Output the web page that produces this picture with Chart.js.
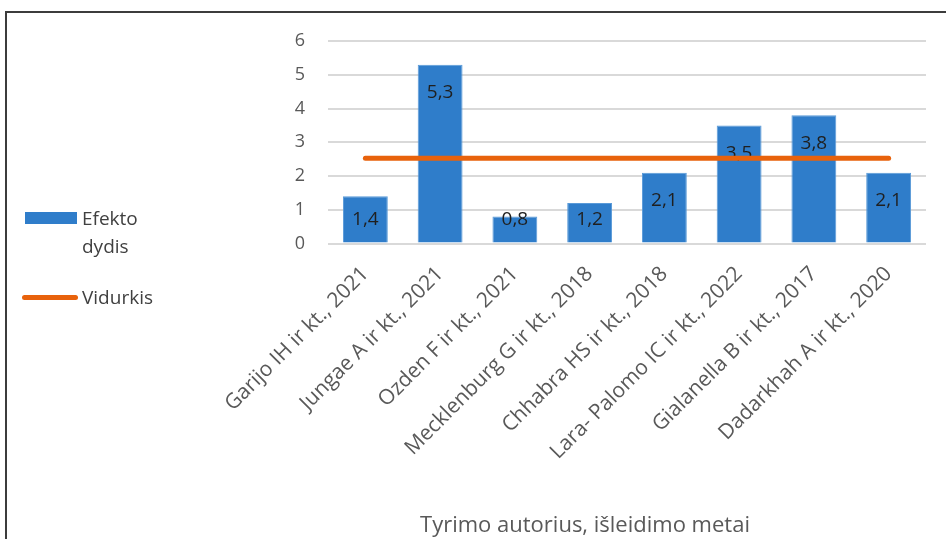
<!DOCTYPE html>
<html>
<head>
<meta charset="utf-8">
<script src="https://cdn.jsdelivr.net/npm/chart.js@4/dist/chart.umd.min.js"></script>
<style>
    body { margin: 0; background: #fff; width: 946px; height: 539px; overflow: hidden; position: relative; }
    #frame { position: absolute; left: 5px; top: 11px; width: 1000px; height: 600px;
             border-left: 2px solid #3c3c3c; border-top: 2px solid #3c3c3c; }
    #chart { position: absolute; left: 0; top: 0; }
    #legend { position: absolute; left: 20px; top: 211px; font-family: "Open Sans", sans-serif;
              font-size: 19px; color: #404040; }
    .legend-item { position: relative; height: 28px; }
    .legend-text { position: absolute; left: 62px; width: 80px; line-height: 28px; }
    .legend-swatch { position: absolute; }
</style>
</head>
<body>
<div id="frame"></div>
<canvas id="chart" width="946" height="539"></canvas>
<div id="legend"></div>
<script>
const categories = [
    'Garijo IH ir kt., 2021',
    'Jungae A ir kt., 2021',
    'Ozden F ir kt., 2021',
    'Mecklenburg G ir kt., 2018',
    'Chhabra HS ir kt., 2018',
    'Lara- Palomo IC ir kt., 2022',
    'Gialanella B ir kt., 2017',
    'Dadarkhah A ir kt., 2020'
];
const effectSizes = [1.4, 5.3, 0.8, 1.2, 2.1, 3.5, 3.8, 2.1];
const averageLine = [2.53, 2.53, 2.53, 2.53, 2.53, 2.53, 2.53, 2.53];
const yMin = 0;
const yMax = 6;
const yStep = 1;
const xTitle = 'Tyrimo autorius, išleidimo metai';

const barColor = '#2F7DCA';
const lineColor = '#E8620C';
const axisText = '#595959';

// bar value labels, drawn right after the bars so the average line goes over them
const barLabels = {
    id: 'barLabels',
    afterDatasetDraw(chart, args) {
        if (args.index !== 0) return;
        const ctx = chart.ctx;
        const base = chart.scales.y.getPixelForValue(0);
        ctx.save();
        ctx.font = '19px "Open Sans", sans-serif';
        ctx.fillStyle = '#1f1f1f';
        ctx.textAlign = 'center';
        ctx.textBaseline = 'middle';
        args.meta.data.forEach((bar, i) => {
            const y = Math.min(bar.y + 28, base - 24);
            ctx.fillText(effectSizes[i].toFixed(1).replace('.', ','), bar.x, y);
        });
        ctx.restore();
    }
};

const chart = new Chart(document.getElementById('chart'), {
    data: {
        labels: categories,
        datasets: [
            {
                type: 'bar',
                label: 'Efekto dydis',
                data: effectSizes,
                backgroundColor: barColor,
                borderColor: '#5A9AD8',
                borderWidth: 1,
                barPercentage: 0.6,
                categoryPercentage: 1,
                order: 2
            },
            {
                type: 'line',
                label: 'Vidurkis',
                data: averageLine,
                borderColor: lineColor,
                borderWidth: 5,
                borderCapStyle: 'round',
                pointRadius: 0,
                fill: false,
                order: 1
            }
        ]
    },
    options: {
        responsive: false,
        animation: false,
        devicePixelRatio: 1,
        layout: { padding: { left: 244, right: 20, top: 41, bottom: 0 } },
        plugins: {
            legend: { display: false },
            tooltip: { enabled: false },
            title: {
                display: true,
                position: 'bottom',
                text: xTitle,
                color: axisText,
                font: { family: '"Open Sans", sans-serif', size: 22, weight: 'normal' },
                padding: { top: 3, bottom: 0 }
            }
        },
        scales: {
            x: {
                grid: { display: false },
                border: { display: false },
                ticks: {
                    color: axisText,
                    font: { family: '"Open Sans", sans-serif', size: 21 },
                    maxRotation: 45,
                    minRotation: 45,
                    padding: 10
                },
                afterFit(scale) { scale.height = 266; }
            },
            y: {
                min: yMin,
                max: yMax,
                ticks: {
                    stepSize: yStep,
                    color: axisText,
                    font: { family: '"Open Sans", sans-serif', size: 18 },
                    padding: 23
                },
                grid: { color: '#D9D9D9', lineWidth: 2, drawTicks: false },
                border: { display: false },
                afterFit(scale) { scale.width = 84; }
            }
        }
    },
    plugins: [barLabels]
});

// legend on the left side, built from the datasets
function buildLegend() {
    const legend = document.getElementById('legend');
    let body = '';
    for (const ds of chart.data.datasets) {
        let swatch;
        if (ds.type === 'bar') {
            swatch = `<div class="legend-swatch" style="left:5px;top:1px;width:52px;height:12px;background:${ds.backgroundColor}"></div>`;
            body += `<div class="legend-item" style="height:72px">${swatch}<div class="legend-text" style="top:-7px">${ds.label}</div></div>`;
        } else {
            swatch = `<div class="legend-swatch" style="left:2px;top:12px;width:56px;height:5px;border-radius:3px;background:${ds.borderColor}"></div>`;
            body += `<div class="legend-item">${swatch}<div class="legend-text" style="top:0">${ds.label}</div></div>`;
        }
    }
    legend.innerHTML = body;
}
buildLegend();
</script>
</body>
</html>
